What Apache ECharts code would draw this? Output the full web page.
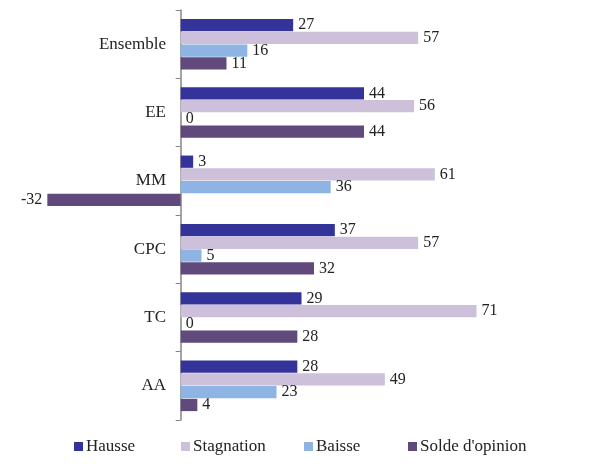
<!DOCTYPE html>
<html lang="fr">
<head>
<meta charset="UTF-8">
<title>Opinion par secteur</title>
<script src="https://cdn.jsdelivr.net/npm/echarts@6/dist/echarts.min.js"></script>
<style>
  html, body { margin: 0; padding: 0; background: #fff; }
  #main { width: 598px; height: 464px; }
</style>
</head>
<body>
<div id="main"></div>
<script>
  // categories (haut -> bas)
  var categories = ['Ensemble', 'EE', 'MM', 'CPC', 'TC', 'AA'];
  var seriesNames = ['Hausse', 'Stagnation', 'Baisse', "Solde d'opinion"];
  var hausse = [27, 44, 3, 37, 29, 28];
  var stagnation = [57, 56, 61, 57, 71, 49];
  var baisse = [16, 0, 36, 5, 0, 23];
  var solde = [11, 44, -32, 32, 28, 4];

  var font = '"Liberation Serif", "DejaVu Serif", serif';
  var colors = ['#333399', '#CCC0DA', '#8DB4E2', '#604A7B'];
  var legendLeft = [69, 176, 299, 403];

  function serie(name, data, color) {
    return {
      name: name,
      type: 'bar',
      // etiquette a gauche pour les valeurs negatives
      data: data.map(function (v) {
        return { value: v, label: { position: v < 0 ? 'left' : 'right' } };
      }),
      barGap: '4%',
      barCategoryGap: '26%',
      itemStyle: { color: color },
      label: {
        show: true,
        distance: 5,
        fontFamily: font,
        fontSize: 16,
        color: '#222'
      }
    };
  }

  // une legende par serie pour caler les positions
  var legends = seriesNames.map(function (n, i) {
    return {
      bottom: 4,
      left: legendLeft[i],
      itemWidth: 9,
      itemHeight: 9,
      icon: 'rect',
      textStyle: { fontFamily: font, fontSize: 17, color: '#222', padding: [0, 0, 0, -2] },
      data: [n]
    };
  });

  var chart = echarts.init(document.getElementById('main'));
  var option = {
    animation: false,
    color: colors,
    textStyle: { fontFamily: font },
    grid: { left: 14, right: 84, top: 10, bottom: 44, outerBoundsMode: 'none', containLabel: false },
    legend: legends,
    xAxis: {
      type: 'value',
      min: -40,
      max: 80,
      axisLabel: { show: false },
      axisLine: { show: false },
      axisTick: { show: false },
      splitLine: { show: false }
    },
    yAxis: {
      type: 'category',
      data: categories,
      inverse: true,
      axisLine: { onZero: true, lineStyle: { color: '#868686', width: 1.5 } },
      axisTick: { show: true, length: 5, lineStyle: { color: '#868686' } },
      axisLabel: { fontFamily: font, fontSize: 17, color: '#222', margin: -152 },
      position: 'left'
    },
    series: [
      serie(seriesNames[0], hausse, colors[0]),
      serie(seriesNames[1], stagnation, colors[1]),
      serie(seriesNames[2], baisse, colors[2]),
      serie(seriesNames[3], solde, colors[3])
    ]
  };
  chart.setOption(option);
</script>
</body>
</html>
